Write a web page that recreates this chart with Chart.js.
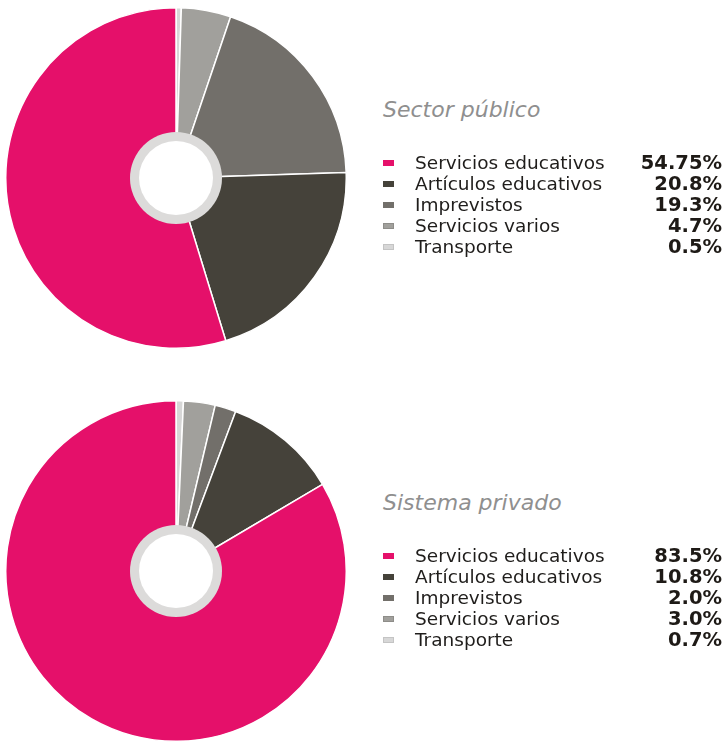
<!DOCTYPE html>
<html>
<head>
<meta charset="utf-8">
<script src="https://cdn.jsdelivr.net/npm/chart.js@4/dist/chart.umd.min.js"></script>
<style>
  html, body { margin: 0; padding: 0; background: #ffffff; }
  body { width: 724px; height: 742px; position: relative; overflow: hidden; font-family: "DejaVu Sans", Verdana, sans-serif; }
  .panel { position: absolute; left: 0; width: 724px; height: 350px; }
  .panel canvas { position: absolute; left: 5px; top: 7px; }
  .title { position: absolute; left: 383px; top: 97px; font-size: 22px; line-height: 26px; font-style: italic; color: #8f8f8f; white-space: nowrap; }
  .row { position: absolute; left: 0; width: 724px; height: 21px; line-height: 21px; font-size: 18.5px; color: #1f1d1b; white-space: nowrap; }
  .row .mk { position: absolute; left: 383px; top: 8px; width: 11px; height: 6px; box-sizing: border-box; }
  .row .lb { position: absolute; left: 415px; top: 0; }
  .row .pc { position: absolute; right: 2px; top: 0; font-size: 19.5px; font-weight: bold; color: #1e1a16; }
</style>
</head>
<body>
<div class="panel" id="p0" style="top:0px"><canvas id="c0" width="342" height="342"></canvas></div>
<div class="panel" id="p1" style="top:393px"><canvas id="c1" width="342" height="342"></canvas></div>
<script>
// ---- data ----
const categories = ["Servicios educativos", "Artículos educativos", "Imprevistos", "Servicios varios", "Transporte"];
const publicoValues = [54.75, 20.8, 19.3, 4.7, 0.5];
const privadoValues = [83.5, 10.8, 2.0, 3.0, 0.7];
const publicoLabels = ["54.75%", "20.8%", "19.3%", "4.7%", "0.5%"];
const privadoLabels = ["83.5%", "10.8%", "2.0%", "3.0%", "0.7%"];
const panelTitles = ["Sector público", "Sistema privado"];

// ---- styles ----
const sliceColors = ["#e5106a", "#45423a", "#726f6a", "#a1a09c", "#d7d7d7"];
const markerBorders = ["#e5106a", "#45423a", "#726f6a", "#8e8d89", "#c4c4c4"];

const ringPlugin = {
  id: 'centerRing',
  afterDatasetsDraw(chart) {
    const arc = chart.getDatasetMeta(0).data[0];
    if (!arc) return;
    const ctx = chart.ctx;
    const x = arc.x, y = arc.y;
    ctx.save();
    ctx.beginPath();
    ctx.arc(x, y, 46, 0, Math.PI * 2);
    ctx.fillStyle = '#dcdbda';
    ctx.fill();
    ctx.beginPath();
    ctx.arc(x, y, 37, 0, Math.PI * 2);
    ctx.fillStyle = '#ffffff';
    ctx.fill();
    ctx.restore();
  }
};

function makePanel(idx, values, pctLabels) {
  const panel = document.getElementById('p' + idx);
  const t = document.createElement('div');
  t.className = 'title';
  t.textContent = panelTitles[idx];
  panel.appendChild(t);
  categories.forEach((cat, i) => {
    const r = document.createElement('div');
    r.className = 'row';
    r.style.top = (152 + i * 21) + 'px';
    const mk = document.createElement('span');
    mk.className = 'mk';
    mk.style.background = sliceColors[i];
    mk.style.border = '1px solid ' + markerBorders[i];
    const lb = document.createElement('span');
    lb.className = 'lb';
    lb.textContent = cat;
    const pc = document.createElement('span');
    pc.className = 'pc';
    pc.textContent = pctLabels[i];
    r.appendChild(mk); r.appendChild(lb); r.appendChild(pc);
    panel.appendChild(r);
  });

  // slices drawn clockwise from top in reverse legend order
  const order = categories.map((_, i) => i).reverse();
  new Chart(document.getElementById('c' + idx), {
    type: 'pie',
    data: {
      labels: order.map(i => categories[i]),
      datasets: [{
        data: order.map(i => values[i]),
        backgroundColor: order.map(i => sliceColors[i]),
        borderColor: '#ffffff',
        borderWidth: 1.5
      }]
    },
    options: {
      responsive: false,
      animation: false,
      layout: { padding: 0 },
      plugins: { legend: { display: false }, tooltip: { enabled: false } }
    },
    plugins: [ringPlugin]
  });
}

makePanel(0, publicoValues, publicoLabels);
makePanel(1, privadoValues, privadoLabels);
</script>
</body>
</html>
